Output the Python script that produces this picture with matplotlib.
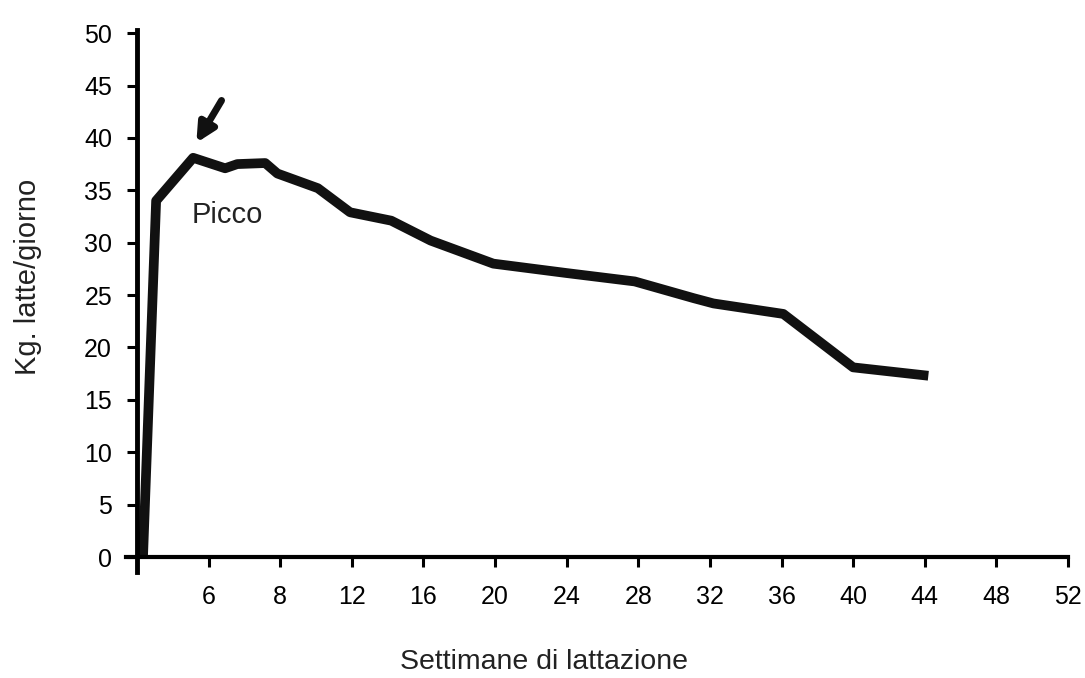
import matplotlib
matplotlib.use('Agg')
import matplotlib.pyplot as plt
import numpy as np

# x axis in the original is not linear: ticks are evenly spaced
tick_weeks = [0, 6, 8, 12, 16, 20, 24, 28, 32, 36, 40, 44, 48, 52]
tick_labels = ['', '6', '8', '12', '16', '20', '24', '28', '32', '36', '40', '44', '48', '52']

# milk curve (weeks, kg/day)
weeks = [0.5, 1.6, 4.7, 6.46, 6.8, 7.58, 7.92, 10.1, 11.9, 14.2, 16.4, 19.9, 24.0, 27.8, 31.1, 32.2, 36.1, 40.0, 44.2]
kg = [0.0, 34.0, 38.1, 37.1, 37.5, 37.6, 36.6, 35.2, 32.9, 32.1, 30.2, 28.0, 27.1, 26.3, 24.7, 24.2, 23.2, 18.1, 17.3]

y_ticks = [0, 5, 10, 15, 20, 25, 30, 35, 40, 45, 50]


def to_pos(w):
    return np.interp(w, tick_weeks, np.arange(len(tick_weeks)))


plt.rcParams['font.family'] = ['Liberation Sans', 'DejaVu Sans']

fig = plt.figure(figsize=(10.85, 6.78), dpi=100)
ax = fig.add_axes([0.1164, 0.1568, 0.8712, 0.799])

ax.plot(to_pos(weeks), kg, color='#111111', lw=7, solid_joinstyle='round', solid_capstyle='butt')

ax.set_xlim(-0.15, 13.05)
ax.set_ylim(-1.4, 50.3)

ax.spines['top'].set_visible(False)
ax.spines['right'].set_visible(False)
ax.spines['left'].set_position(('data', 0))
ax.spines['bottom'].set_position(('data', 0))
ax.spines['left'].set_linewidth(3.5)
ax.spines['bottom'].set_linewidth(3.0)
ax.spines['bottom'].set_bounds(-0.15, 13)

ax.set_xticks(range(len(tick_weeks)))
ax.set_xticklabels(tick_labels)
ax.set_yticks(y_ticks)
ax.tick_params(axis='x', direction='out', length=7, width=2.2, pad=13, labelsize=18)
ax.tick_params(axis='y', direction='out', length=7, width=2.2, pad=11, labelsize=18)
ax.xaxis.get_major_ticks()[0].tick1line.set_visible(False)

ax.text(to_pos(4.55), 31.9, 'Picco', fontsize=21, color='#222222')
ax.annotate('', xy=(to_pos(4.85), 39.3), xytext=(to_pos(6.4), 43.8),
            arrowprops=dict(arrowstyle='-|>,head_length=1.1,head_width=0.55', color='#111111', lw=5))

fig.text(0.501, 0.024, 'Settimane di lattazione', fontsize=20.5, ha='center', va='center', color='#222222')
fig.text(0.026, 0.591, 'Kg. latte/giorno', fontsize=21, ha='center', va='center', rotation=90, color='#222222')

fig.savefig('out.png', dpi=100)
